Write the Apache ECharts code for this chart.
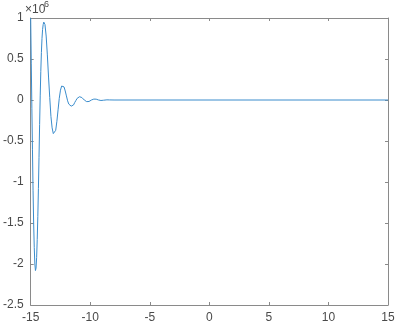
<!DOCTYPE html>
<html>
<head>
<meta charset="utf-8">
<script src="https://cdn.jsdelivr.net/npm/echarts@6/dist/echarts.min.js"></script>
<style>
html,body{margin:0;padding:0;background:#fff;}
#c{width:404px;height:328px;}
</style>
</head>
<body>
<div id="c"></div>
<script>
// x positions
var xValues = [-15.0,-14.95,-14.9,-14.85,-14.8,-14.75,-14.7,-14.65,-14.6,-14.55,-14.5,-14.45,-14.4,-14.35,-14.3,-14.25,-14.2,-14.15,-14.1,-14.05,-14.0,-13.95,-13.9,-13.85,-13.8,-13.7,-13.6,-13.5,-13.4,-13.3,-13.2,-13.1,-13.0,-12.9,-12.8,-12.7,-12.6,-12.5,-12.4,-12.3,-12.2,-12.1,-12.0,-11.9,-11.8,-11.7,-11.6,-11.5,-11.4,-11.3,-11.2,-11.1,-11.0,-10.9,-10.8,-10.7,-10.6,-10.5,-10.4,-10.3,-10.2,-10.1,-10.0,-9.9,-9.8,-9.7,-9.6,-9.5,-9.4,-9.3,-9.2,-9.1,-9.0,-8.9,-8.8,-8.6,-8.4,-8.0,15.0];
// y values in units of 10^6
var yValues = [1.0,0.45,-0.1,-0.6,-1.1,-1.5,-1.8,-2.0,-2.08,-2.05,-1.92,-1.7,-1.42,-1.08,-0.7,-0.3,0.05,0.35,0.58,0.75,0.86,0.92,0.95,0.95,0.92,0.78,0.55,0.28,0.03,-0.2,-0.34,-0.41,-0.42,-0.37,-0.26,-0.12,0.02,0.12,0.17,0.18,0.16,0.11,0.05,-0.01,-0.05,-0.07,-0.075,-0.07,-0.06,-0.03,-0.005,0.02,0.035,0.04,0.04,0.03,0.015,0.0,-0.012,-0.02,-0.022,-0.018,-0.01,0.0,0.007,0.011,0.012,0.01,0.006,0.0,-0.004,-0.006,-0.005,-0.003,0.0,0.002,0.001,0.0,0.0];
var xTicks = [-15,-10,-5,0,5,10,15];
var yTicks = [-2.5,-2,-1.5,-1,-0.5,0,0.5,1];
var multiplierBase = '\u00d710';
var multiplierExp = '6';

var axisColor = '#8a8a8a';
var labelColor = '#4a4a4a';
var font = 'Liberation Sans, Arial, Helvetica, sans-serif';

var seriesData = xValues.map(function (x, i) { return [x, yValues[i]]; });

var chart = echarts.init(document.getElementById('c'), null, {renderer: 'canvas'});
function baseX(pos, showLabels) {
  return {
    type: 'value', position: pos, min: xTicks[0], max: xTicks[xTicks.length - 1], interval: 5,
    axisLine: {show: true, onZero: false, lineStyle: {color: axisColor, width: 1}},
    axisTick: {show: true, inside: true, length: 3, lineStyle: {color: axisColor}},
    axisLabel: {show: showLabels, color: labelColor, fontSize: 12, fontFamily: font, margin: 7},
    splitLine: {show: false}
  };
}
function baseY(pos, showLabels) {
  return {
    type: 'value', position: pos, min: yTicks[0], max: yTicks[yTicks.length - 1], interval: 0.5,
    axisLine: {show: true, onZero: false, lineStyle: {color: axisColor, width: 1}},
    axisTick: {show: true, inside: true, length: 3, lineStyle: {color: axisColor}},
    axisLabel: {show: showLabels, color: labelColor, fontSize: 12, fontFamily: font, margin: 7},
    splitLine: {show: false}
  };
}
chart.setOption({
  animation: false,
  backgroundColor: '#ffffff',
  grid: {left: 25, right: 16, top: 18, bottom: 23, containLabel: false},
  xAxis: [baseX('bottom', true), baseX('top', false)],
  yAxis: [baseY('left', true), baseY('right', false)],
  graphic: [
    {type: 'text', left: 25, top: 4, style: {text: multiplierBase, fill: labelColor, fontSize: 12, fontFamily: font}},
    {type: 'text', left: 44, top: 0, style: {text: multiplierExp, fill: labelColor, fontSize: 9, fontFamily: font}}
  ],
  series: [{
    type: 'line', xAxisIndex: 0, yAxisIndex: 0, data: seriesData,
    showSymbol: false, smooth: false, clip: true,
    lineStyle: {color: '#3a8ccc', width: 1}
  }]
});
</script>
</body>
</html>
